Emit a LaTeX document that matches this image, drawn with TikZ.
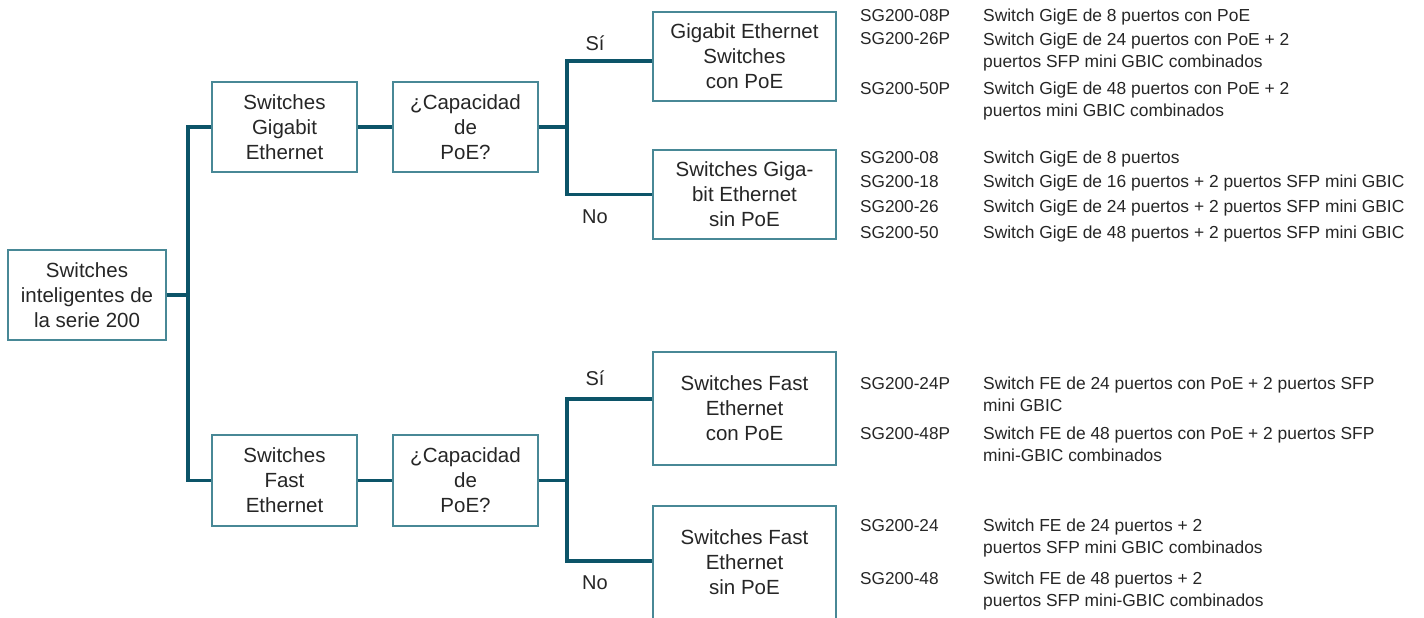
\documentclass[tikz,border=0pt]{standalone}
\usepackage{fontspec}
\setmainfont{Liberation Sans}
\definecolor{lineteal}{RGB}{12,84,104}
\definecolor{boxteal}{RGB}{72,136,150}
\definecolor{txtgray}{RGB}{38,38,38}
\tikzset{
  box/.style={draw=boxteal,line width=1.4pt,fill=white,inner sep=0pt,align=center,text=txtgray,font=\fontsize{20.5}{25}\selectfont},
  link/.style={draw=lineteal,line width=3.4pt},
  answer/.style={text=txtgray,inner sep=0pt,font=\fontsize{20}{24}\selectfont},
  model/.style={anchor=base west,inner sep=0pt,text=txtgray,font=\fontsize{17.2}{22}\selectfont},
  spec/.style={anchor=base west,inner sep=0pt,align=left,text=txtgray,font=\fontsize{17.4}{22}\selectfont}
}
\begin{document}
\begin{tikzpicture}[x=1pt,y=-1pt]
\useasboundingbox (0,0) rectangle (1424,618);

\node[box,minimum width=158pt,minimum height=90pt](root) at (87,295){Switches\\inteligentes de\\la serie 200};

\node[box,minimum width=145pt,minimum height=90pt](gig) at (284.5,127){Switches\\Gigabit\\Ethernet};
\node[box,minimum width=145pt,minimum height=90pt](capg) at (465.5,127){¿Capacidad\\de\\PoE?};
\node[box,minimum width=183pt,minimum height=89pt](gigpoe) at (744.5,56.5){Gigabit Ethernet\\Switches\\con PoE};
\node[box,minimum width=183pt,minimum height=89pt](gignopoe) at (744.5,194.5){Switches Giga-\\bit Ethernet\\sin PoE};

\node[box,minimum width=145pt,minimum height=91pt](fast) at (284.5,480.5){Switches\\Fast\\Ethernet};
\node[box,minimum width=145pt,minimum height=91pt](capf) at (465.5,480.5){¿Capacidad\\de\\PoE?};
\node[box,minimum width=183pt,minimum height=113pt](fastpoe) at (744.5,408.5){Switches Fast\\Ethernet\\con PoE};
\node[box,minimum width=183pt,minimum height=113pt](fastnopoe) at (744.5,562.5){Switches Fast\\Ethernet\\sin PoE};

\node[answer](sig) at (595,43){Sí};
\node[answer](nog) at (595,217){No};
\node[answer](sif) at (595,378){Sí};
\node[answer](nof) at (595,583){No};

\coordinate (trunk) at (188,295);
\coordinate (forkg) at (567,127);
\coordinate (forkf) at (567,480.5);

\draw[link](root.east)--(trunk);
\draw[link](gig.west)-|(trunk)|-(fast.west);
\draw[link](gig)--(capg);
\draw[link](fast)--(capf);
\draw[link](capg.east)--(forkg);
\draw[link](capf.east)--(forkf);
\draw[link]([yshift=-4.5pt]gigpoe.west)-|(forkg)|-(gignopoe.west);
\draw[link]([yshift=9.5pt]fastpoe.west)-|(forkf)|-([yshift=1.5pt]fastnopoe.west);

% modelos Gigabit (two-line specs sit on their last baseline)
\node[model](m08p) at (860,22){SG200-08P};
\node[spec](d08p) at (983,22){Switch GigE de 8 puertos con PoE};
\node[model](m26p) at (860,45){SG200-26P};
\node[spec](d26p) at (983,67){Switch GigE de 24 puertos con PoE + 2\\puertos SFP mini GBIC combinados};
\node[model](m50p) at (860,94){SG200-50P};
\node[spec](d50p) at (983,116){Switch GigE de 48 puertos con PoE + 2\\puertos mini GBIC combinados};

\node[model](m08) at (860,163){SG200-08};
\node[spec](d08) at (983,163){Switch GigE de 8 puertos};
\node[model](m18) at (860,187){SG200-18};
\node[spec](d18) at (983,187){Switch GigE de 16 puertos + 2 puertos SFP mini GBIC};
\node[model](m26) at (860,212){SG200-26};
\node[spec](d26) at (983,212){Switch GigE de 24 puertos + 2 puertos SFP mini GBIC};
\node[model](m50) at (860,238){SG200-50};
\node[spec](d50) at (983,238){Switch GigE de 48 puertos + 2 puertos SFP mini GBIC};

% modelos Fast Ethernet
\node[model](m24p) at (860,389){SG200-24P};
\node[spec](d24p) at (983,411){Switch FE de 24 puertos con PoE + 2 puertos SFP\\mini GBIC};
\node[model](m48p) at (860,439){SG200-48P};
\node[spec](d48p) at (983,461){Switch FE de 48 puertos con PoE + 2 puertos SFP\\mini-GBIC combinados};

\node[model](m24) at (860,531){SG200-24};
\node[spec](d24) at (983,553){Switch FE de 24 puertos + 2\\puertos SFP mini GBIC combinados};
\node[model](m48) at (860,584){SG200-48};
\node[spec](d48) at (983,606){Switch FE de 48 puertos + 2\\puertos SFP mini-GBIC combinados};
\end{tikzpicture}
\end{document}
